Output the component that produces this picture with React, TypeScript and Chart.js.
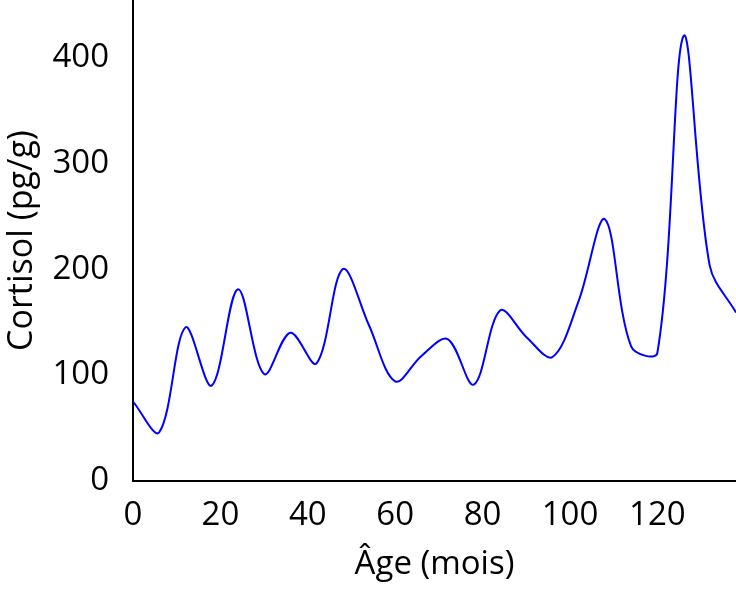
import React, { useEffect, useRef } from "react";
import { Chart, registerables } from "chart.js";

Chart.register(...registerables);

const ages = [0, 6, 12, 18, 24, 30, 36, 42, 48, 54, 60, 66, 72, 78, 84, 90, 96, 102, 108, 114, 120, 126, 132, 138];
const cortisol = [75, 46, 145, 90, 181, 101, 140, 111, 200, 147, 94, 118, 134, 91, 161, 136, 117, 170, 247, 127, 121, 420, 203, 159];
const xTickStep = 20;
const yTickStep = 100;
const xMax = 138;
const yMax = 454;
const xTitle = "Âge (mois)";
const yTitle = "Cortisol (pg/g)";

const FONT = "'Open Sans', 'Noto Sans', sans-serif";

export default function App() {
  const ref = useRef<HTMLCanvasElement | null>(null);

  useEffect(() => {
    if (!ref.current) return;
    const chart = new Chart(ref.current, {
      type: "line",
      data: {
        datasets: [
          {
            data: ages.map((a, i) => ({ x: a, y: cortisol[i] })),
            borderColor: "#0000FF",
            borderWidth: 2,
            pointRadius: 0,
            tension: 0.34,
            fill: false,
          },
        ],
      },
      options: {
        animation: false,
        responsive: true,
        maintainAspectRatio: false,
        layout: { padding: 0 },
        plugins: { legend: { display: false }, tooltip: { enabled: false } },
        scales: {
          x: {
            type: "linear",
            min: 0,
            max: xMax,
            grid: { display: false, drawTicks: false },
            border: { display: true, color: "#000", width: 2 },
            afterFit: (s: any) => {
              s.height = 108;
              s.paddingLeft = 0;
              s.paddingRight = 0;
            },
            ticks: {
              stepSize: xTickStep,
              includeBounds: false,
              color: "#000",
              padding: 15,
              maxRotation: 0,
              autoSkip: false,
              font: { family: FONT, size: 33 },
            },
            title: {
              display: true,
              text: xTitle,
              color: "#000",
              padding: { top: 0, bottom: 5 },
              font: { family: FONT, size: 33 },
            },
          },
          y: {
            min: 0,
            max: yMax,
            grid: { display: false, drawTicks: false },
            border: { display: true, color: "#000", width: 2 },
            afterFit: (s: any) => {
              s.width = 133;
              s.paddingTop = 0;
              s.paddingBottom = 0;
            },
            ticks: {
              stepSize: yTickStep,
              includeBounds: false,
              color: "#000",
              padding: 24,
              font: { family: FONT, size: 33 },
            },
            title: {
              display: true,
              text: yTitle,
              color: "#000",
              padding: { top: 2, bottom: 0 },
              font: { family: FONT, size: 34 },
            },
          },
        },
      },
    });
    return () => chart.destroy();
  }, []);

  return (
    <div style={{ position: "fixed", left: 0, top: 0, width: 736, height: 589, background: "#fff" }}>
      <canvas ref={ref} />
    </div>
  );
}
